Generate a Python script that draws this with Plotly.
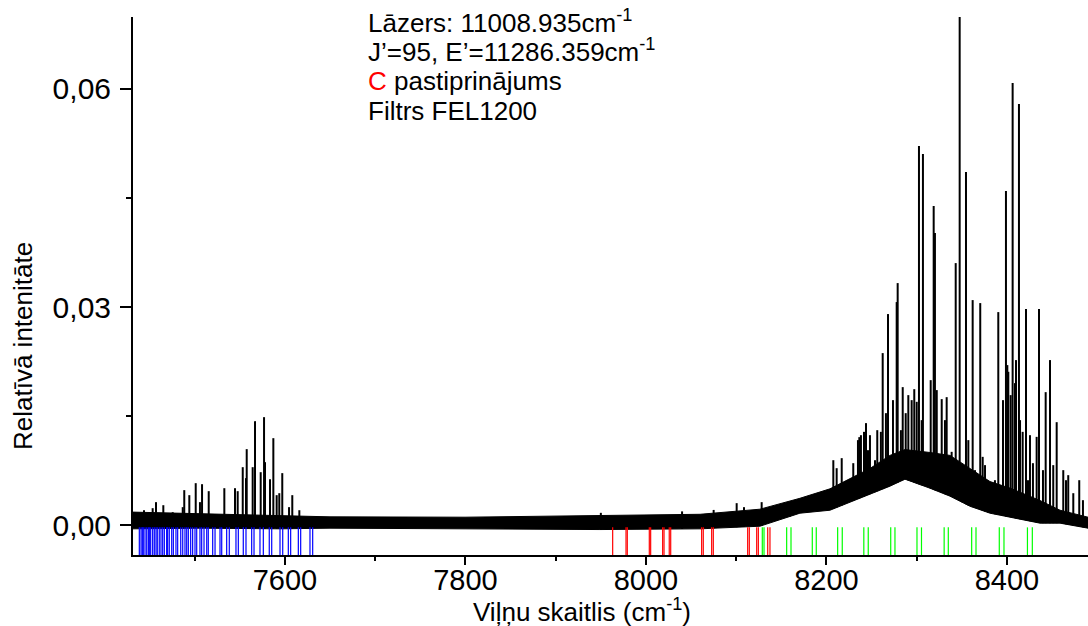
import numpy as np
import plotly.graph_objects as go

# ---------------- data ----------------
# noise band of the spectrum (wavenumber, lower / upper envelope)
band_x = [7431.6, 7505.8, 7594.5, 7649.9, 7799.5, 7949.0, 8059.9, 8126.3, 8170.6,
          8203.9, 8226.0, 8248.2, 8270.4, 8287.0, 8314.7, 8336.9, 8359.0, 8381.2,
          8403.4, 8436.6, 8458.8, 8489.8]
band_lo = [-0.00050, -0.00041, -0.00050, -0.00041, -0.00050, -0.00060, -0.00050, -0.00014,
           0.00165, 0.00206, 0.00317, 0.00427, 0.00537, 0.00633, 0.00509, 0.00399,
           0.00261, 0.00165, 0.00110, 0.00028, 0.00028, -0.00041]
band_hi = [0.00180, 0.00160, 0.00140, 0.00115, 0.00110, 0.00130, 0.00150, 0.00220,
           0.00370, 0.00500, 0.00640, 0.00780, 0.00960, 0.01040, 0.01000, 0.00960,
           0.00780, 0.00600, 0.00510, 0.00340, 0.00206, 0.00110]

# spectral lines (wavenumber, peak intensity)
spike_x = [7443.8, 7453.4, 7457.1, 7465.2, 7475.6, 7486.7, 7488.4, 7494.0, 7501.1, 7505.8,
           7508.1, 7515.5, 7532.8, 7544.6, 7547.6, 7553.2, 7556.8, 7557.6, 7564.2, 7566.8,
           7573.1, 7576.8, 7577.9, 7583.4, 7587.1, 7590.8, 7593.7, 7597.0, 7604.5, 7608.1,
           7615.9, 7950.0, 8040.0, 8075.0, 8100.5, 8108.6, 8128.2, 8144.8, 8159.6,
           8178.1, 8184.3, 8207.6, 8211.3, 8216.9, 8229.7, 8236.4, 8238.2, 8243.8, 8248.2,
           8256.3, 8262.3, 8265.9, 8268.2, 8277.8, 8278.9, 8284.5, 8290.7, 8297.3, 8302.5,
           8306.9, 8315.5, 8318.8, 8320.2, 8327.7, 8333.2, 8343.2, 8347.6, 8354.6, 8362.0,
           8370.4, 8390.4, 8398.9, 8400.4, 8404.1, 8406.3, 8408.9, 8413.3, 8421.1, 8425.5,
           8435.5, 8442.9, 8447.7, 8455.1, 8462.4, 8467.9, 8473.5, 8480.1,
           8241.6, 8260.3, 8282.5, 8300.0, 8305.5, 8322.2, 8338.7, 8357.2, 8366.5,
           8373.1, 8379.4, 8401.5, 8414.5, 8417.4, 8428.8, 8432.9, 8451.3,
           8234.9, 8246.0, 8253.8, 8273.7, 8287.8, 8294.4, 8331.3, 8350.2, 8364.6,
           8375.7, 8386.7, 8395.6, 8410.0, 8423.3, 8439.9, 8465.4, 8484.2]
spike_y = [0.00206, 0.00234, 0.00317, 0.00275, 0.00179, 0.00248, 0.00482, 0.00413, 0.00578, 0.00317,
           0.00564, 0.00468, 0.00509, 0.00509, 0.00468, 0.00798, 0.00647, 0.01046, 0.00798, 0.01431,
           0.00729, 0.01486, 0.00867, 0.00633, 0.01197, 0.00413, 0.00440, 0.00716, 0.00248, 0.00413,
           0.00206, 0.00170, 0.00190, 0.00210, 0.00303, 0.00248, 0.00317, 0.00206, 0.00303,
           0.00385, 0.00413, 0.00894, 0.00784, 0.00922, 0.00853, 0.01211, 0.01238, 0.01404, 0.01238,
           0.01307, 0.02367, 0.01541, 0.02904, 0.03069, 0.03330, 0.01899, 0.01789, 0.01871, 0.05215,
           0.05105, 0.01995, 0.04390, 0.04018, 0.01734, 0.01761, 0.03605, 0.07000, 0.04858, 0.03096,
           0.03055, 0.02931, 0.04596, 0.02202, 0.01789, 0.06082, 0.01954, 0.05793, 0.02972, 0.01238,
           0.02972, 0.01830, 0.02271, 0.01417, 0.00757, 0.00688, 0.00440, 0.00619,
           0.01284, 0.01284, 0.01307, 0.01697, 0.01445, 0.01858, 0.01009, 0.01170, 0.00716,
           0.00940, 0.00527, 0.02110, 0.01445, 0.01284, 0.00853, 0.01215, 0.00826,
           0.01170, 0.01032, 0.00894, 0.01720, 0.01541, 0.01720, 0.01445, 0.00688, 0.00757,
           0.00826, 0.00619, 0.01720, 0.02271, 0.00619, 0.00757, 0.00619, 0.00344]

# assignment markers below the spectrum
blue_x = [7438.6, 7440.5, 7441.9, 7443.0, 7444.9, 7446.8, 7448.6, 7449.7, 7451.2, 7453.4,
          7455.2, 7457.1, 7458.5, 7460.7, 7462.6, 7464.5, 7466.3, 7468.9, 7470.0, 7471.8,
          7474.5, 7476.3, 7479.2, 7481.1, 7484.5, 7486.7, 7489.2, 7491.1, 7492.9, 7495.5,
          7497.7, 7500.3, 7502.2, 7505.8, 7507.7, 7510.3, 7513.3, 7515.0, 7519.9, 7522.5,
          7528.0, 7529.9, 7535.4, 7538.3, 7545.7, 7548.3, 7553.8, 7556.8, 7563.1, 7565.7,
          7572.3, 7576.0, 7582.6, 7585.3, 7594.5, 7597.5, 7603.7, 7606.3, 7614.8, 7617.4,
          7627.7, 7630.7]
red_x = [7963.1, 7977.9, 7979.3, 8003.7, 8005.2, 8018.5, 8020.0, 8025.8, 8027.4, 8061.7,
         8063.5, 8072.8, 8074.6, 8112.7, 8114.5, 8122.7, 8124.5, 8134.9, 8137.4]
green_x = [8128.9, 8130.8, 8155.9, 8160.7, 8184.3, 8188.7, 8212.4, 8217.5, 8241.4, 8246.3,
           8271.2, 8275.9, 8300.3, 8305.3, 8330.4, 8335.0, 8360.9, 8365.7, 8391.5, 8396.7,
           8422.7, 8428.1]

x_ticks = [7600, 7800, 8000, 8200, 8400]
y_ticks = [0.0, 0.03, 0.06]
y_tick_text = ["0,00", "0,03", "0,06"]

X_RANGE = [7431.6, 8489.8]
Y_RANGE = [-0.0041, 0.0699]
MARK_TOP = -0.0003

FONT = "Liberation Sans, Arial, sans-serif"
L, R, T, B = 133, 0, 17, 71
PW, PH = 1088 - L - R, 626 - T - B


def px_x(p):
    return (p - L) / PW


def px_y(p):
    return 1 - (p - T) / PH


fig = go.Figure()

# noise band polygon
fig.add_trace(go.Scatter(
    x=band_x + band_x[::-1], y=band_hi + band_lo[::-1],
    fill="toself", fillcolor="black", mode="lines",
    line=dict(color="black", width=1), hoverinfo="skip", showlegend=False))

# spikes
base = np.interp(spike_x, band_x, band_lo)
sx, sy = [], []
for x, y, b in zip(spike_x, spike_y, base):
    sx += [x, x, None]
    sy += [b, y, None]
fig.add_trace(go.Scatter(x=sx, y=sy, mode="lines",
                         line=dict(color="black", width=2),
                         hoverinfo="skip", showlegend=False))


def markers(xs, color):
    mx, my = [], []
    for x in xs:
        mx += [x, x, None]
        my += [MARK_TOP, Y_RANGE[0], None]
    return go.Scatter(x=mx, y=my, mode="lines", line=dict(color=color, width=1.2),
                      hoverinfo="skip", showlegend=False)


fig.add_trace(markers(blue_x, "#0000ff"))
fig.add_trace(markers(red_x, "#ff0000"))
fig.add_trace(markers(green_x, "#00ff00"))

fig.update_layout(
    width=1088, height=626,
    margin=dict(l=L, r=R, t=T, b=B),
    paper_bgcolor="white", plot_bgcolor="white",
    font=dict(family=FONT, color="black"),
    showlegend=False,
    xaxis=dict(range=X_RANGE, tickvals=x_ticks, ticks="outside", ticklen=8, tickwidth=2,
               tickcolor="black", showline=True, linewidth=2, linecolor="black",
               showgrid=False, zeroline=False, tickfont=dict(size=29, family=FONT),
               ticklabelstandoff=-10,
               minor=dict(dtick=100, tick0=7500, ticks="outside", ticklen=4, tickwidth=2,
                          tickcolor="black", showgrid=False)),
    yaxis=dict(range=Y_RANGE, tickvals=y_ticks, ticktext=y_tick_text, ticks="outside",
               ticklen=11, tickwidth=2, tickcolor="black", showline=True, linewidth=2,
               linecolor="black", showgrid=False, zeroline=False,
               tickfont=dict(size=30, family=FONT), ticklabelstandoff=3,
               minor=dict(tickvals=[0.015, 0.045], ticks="outside", ticklen=5, tickwidth=2,
                          tickcolor="black", showgrid=False)),
)

# axis titles
fig.add_annotation(text="Viļņu skaitlis (cm<sup>-1</sup>)", xref="paper", yref="paper",
                   x=px_x(582), y=px_y(610), xanchor="center", yanchor="middle",
                   showarrow=False, font=dict(size=26, family=FONT, color="black"))
fig.add_annotation(text="Relatīvā intenitāte", xref="paper", yref="paper",
                   x=px_x(23), y=px_y(346), xanchor="center", yanchor="middle",
                   textangle=-90, showarrow=False,
                   font=dict(size=26, family=FONT, color="black"))

# text block
ann_lines = ["Lāzers: 11008.935cm<sup>-1</sup>",
             "J’=95, E’=11286.359cm<sup>-1</sup>",
             "<span style='color:#ff0000'>C</span> pastiprinājums",
             "Filtrs FEL1200"]
ann_y_px = [21, 51, 81, 111]
for txt, ypx in zip(ann_lines, ann_y_px):
    fig.add_annotation(text=txt, xref="paper", yref="paper",
                       x=px_x(366), y=px_y(ypx),
                       xanchor="left", yanchor="middle", showarrow=False,
                       font=dict(size=26, family=FONT, color="black"))

fig.write_html("out.html")
